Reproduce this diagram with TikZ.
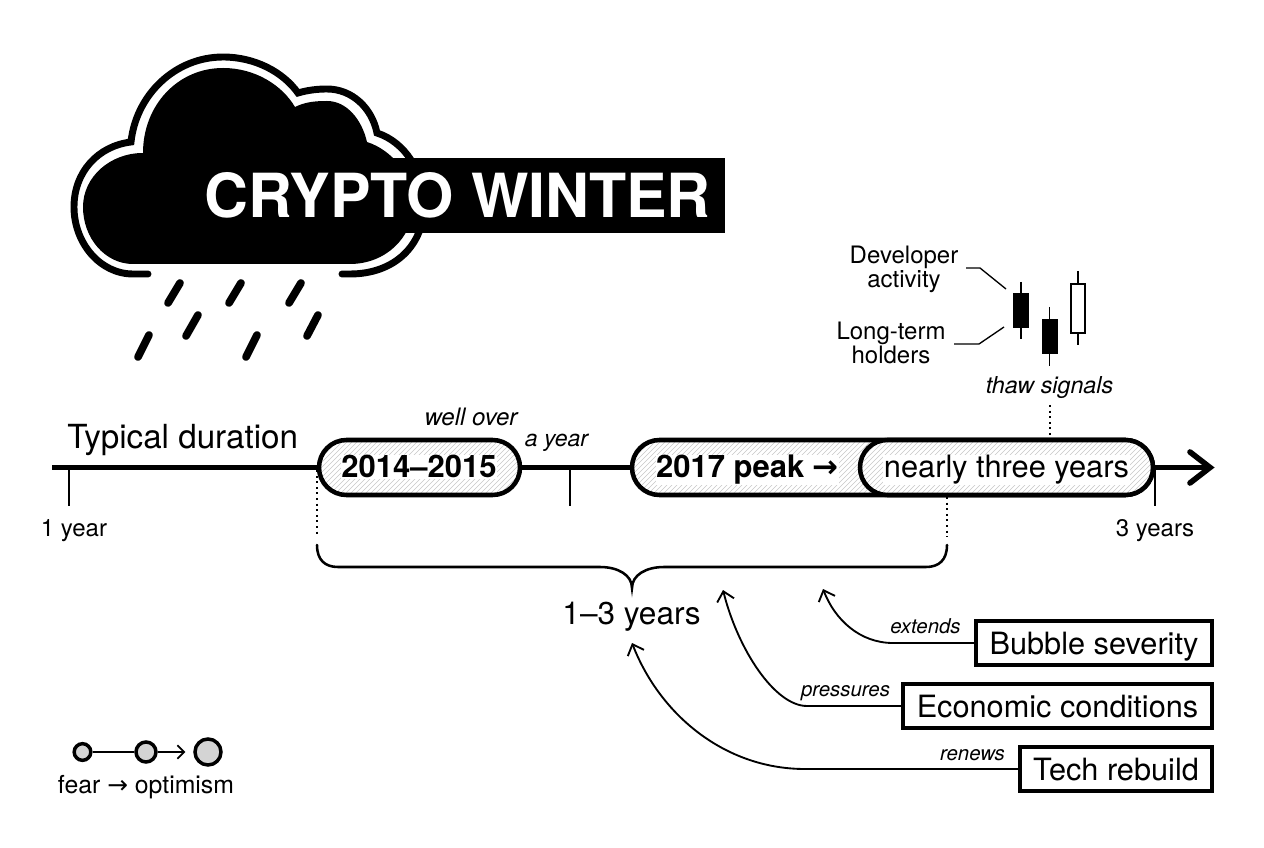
\documentclass[tikz,border=0pt]{standalone}
\usepackage{fontspec}
\setmainfont{TeX Gyre Heros}
\newfontfamily\arrowfont{DejaVu Sans}
\usetikzlibrary{arrows.meta,calc}
\definecolor{hatchgray}{gray}{0.78}
\newcommand{\pxf}[1]{\fontsize{\dimexpr#1pt*3/4\relax}{\dimexpr#1pt*25/32\relax}\selectfont}
\tikzset{
  x=0.75pt,y=-0.75pt,
  hatched/.style={path picture={
    \foreach \k in {-70,-65,...,600}{
      \draw[hatchgray,line width=0.45pt] ([xshift=\k*0.75pt]path picture bounding box.south west) -- ++(60,-60);
    }}},
  pill/.style={draw=black,line width=3.4pt,fill=white,hatched,rounded corners=20.6pt,minimum height=41.25pt,inner sep=0pt},
  pilltext/.style={fill=white,inner sep=0.4pt,anchor=base},
  bar/.style={line width=3.8pt,draw=black},
  tick/.style={line width=1.2pt,draw=black},
  dots/.style={line width=1.5pt,draw=black,dash pattern=on 1.5pt off 2.7pt},
  drop/.style={line width=5.8pt,line cap=round,draw=black},
  causebox/.style={draw=black,line width=2.9pt,fill=white,inner sep=0pt,minimum height=33.5pt},
  boxtext/.style={inner sep=0pt,anchor=base,font=\pxf{30.7}},
  cause/.style={line width=1.4pt,draw=black,-{Straight Barb[length=7pt,width=13pt,line width=1.4pt]}},
  verb/.style={font=\pxf{20.4}\itshape,inner sep=0pt,anchor=base},
  lab/.style={font=\pxf{24},inner sep=0pt,anchor=base},
  dot/.style={circle,draw=black,line width=2.6pt,fill=black!17,inner sep=0pt},
  wick/.style={line width=1.4pt,draw=black},
  leader/.style={line width=1pt,draw=black}
}
\begin{document}
\begin{tikzpicture}
\useasboundingbox (0,0) rectangle (1264,848);
\fill[white] (0,0) rectangle (1264,848);
% cloud
\fill[black] (133,264) .. controls (105,264) and (83,238) .. (83,207)
  .. controls (83,177) and (110,153) .. (143,153)
  .. controls (143,105) and (178,68) .. (223,68)
  .. controls (255,68) and (282,85) .. (295,107)
  .. controls (305,102) and (315,101) .. (327,101)
  .. controls (347,101) and (362,120) .. (367,142)
  .. controls (392,150) and (413,175) .. (413,205)
  .. controls (413,238) and (385,264) .. (350,264) -- cycle;
\draw[line width=5.2pt,line cap=round,line join=miter] (148,274) -- (133,274)
  .. controls (100,274) and (74,243) .. (74,207)
  .. controls (74,172) and (98,146) .. (131,142)
  .. controls (136,95) and (175,57) .. (223,57)
  .. controls (255,57) and (283,72) .. (298,93)
  .. controls (308,90) and (318,89) .. (327,89)
  .. controls (352,89) and (372,108) .. (377,133)
  .. controls (405,142) and (424,172) .. (424,205)
  .. controls (424,245) and (395,274) .. (350,274) -- (342,274);
\node[fill=black,minimum height=56.25pt,minimum width=393.75pt,inner sep=0pt,anchor=east] (title) at (725,195.5) {};
\node[text=white,font=\pxf{60.8}\bfseries,inner sep=0pt,anchor=base] (titletext) at (457.5,218) {CRYPTO WINTER};
% rain
\foreach \a/\b/\c/\d in {180/283/168/303,241/283/229/303,301/283/289/303,198/315/186/336,318/315/307/336,149/335/138/357,257/335/246/357}{
  \draw[drop] (\a,\b) -- (\c,\d);
}
% candles
\coordinate (c1t) at (1021,282); \coordinate (c1b) at (1021,339);
\coordinate (c2t) at (1049.5,307); \coordinate (c2b) at (1049.5,366);
\coordinate (c3t) at (1078,271); \coordinate (c3b) at (1078,345);
\draw[wick] (c1t) -- (c1b);
\draw[wick] (c2t) -- (c2b);
\draw[wick] (c3t) -- (c3b);
\node[fill=black,inner sep=0pt,minimum width=12pt,minimum height=26.25pt] (candleA) at (1021,310.5) {};
\node[fill=black,inner sep=0pt,minimum width=12pt,minimum height=26.25pt] (candleB) at (1049.5,336.5) {};
\node[draw=black,fill=white,line width=1.4pt,inner sep=0pt,minimum width=10.5pt,minimum height=36.5pt] (candleC) at (1078,308.5) {};
\node[lab] (dev) at (904,264) {Developer};
\node[lab] (dev2) at (904,288) {activity};
\node[lab] (ltk) at (891,339.5) {Long-term};
\node[lab] (ltk2) at (891,363.5) {holders};
\coordinate (devA) at (966,268); \coordinate (devB) at (1006,289);
\coordinate (ltkA) at (954,344); \coordinate (ltkB) at (1004,327);
\draw[leader] (devA) -- (980,268) -- (devB);
\draw[leader] (ltkA) -- (979,344) -- (ltkB);
\node[verb,font=\pxf{23.3}\itshape] (thaw) at (1049.5,394) {thaw signals};
% timeline
\coordinate (tlstart) at (52,467.5);
\coordinate (tltip) at (1210,467.5);
\draw[bar] (tlstart) -- (tltip);
\draw[bar,line width=4.2pt,line cap=round,line join=miter] (1190,452) -- (tltip) -- (1190,483);
\coordinate (t1a) at (69,467.5); \coordinate (t1b) at (69,506);
\coordinate (t2a) at (570,467.5); \coordinate (t2b) at (570,506);
\coordinate (t3a) at (1155,470); \coordinate (t3b) at (1155,506);
\draw[tick] (t1a) -- (t1b);
\draw[tick] (t2a) -- (t2b);
\draw[tick] (t3a) -- (t3b);
\coordinate (d1a) at (317,470); \coordinate (d1b) at (317,537);
\coordinate (d2a) at (947,497); \coordinate (d2b) at (947,537);
\coordinate (d3a) at (1049.5,405); \coordinate (d3b) at (1049.5,437);
\draw[dots] (d1a) -- (d1b);
\draw[dots] (d2a) -- (d2b);
\draw[dots] (d3a) -- (d3b);
\node[pill,minimum width=150.75pt] (p1) at (419.5,467.5) {};
\node[pill,minimum width=390.75pt] (p2) at (892.5,467.5) {};
\node[pill,minimum width=219.75pt] (p3) at (1006.5,467.5) {};
\node[pilltext,font=\pxf{31}\bfseries] (p1text) at (419,478) {2014--2015};
\node[pilltext,font=\pxf{31}\bfseries] (p2text) at (747.5,478) {2017 peak {\arrowfont →}};
\node[pilltext,font=\pxf{30.8}] (p3text) at (1006.5,478) {nearly three years};
\node[inner sep=0pt,anchor=base west,font=\pxf{33.2}] (typ) at (67,449) {Typical duration};
\node[lab] (y1) at (74,536) {1 year};
\node[lab] (y3) at (1155,536) {3 years};
\node[verb,font=\pxf{24}\itshape] (wo) at (471,426) {well over};
\node[verb,font=\pxf{23}\itshape] (ay) at (556.5,446) {a year};
% brace
\draw[line width=1.9pt,line cap=round] (317,545) .. controls (317,560) and (325,567) .. (338,567) -- (600,567)
  .. controls (618,567) and (632,575) .. (632,588) .. controls (632,575) and (646,567) .. (664,567)
  -- (926,567) .. controls (939,567) and (947,560) .. (947,545);
\node[inner sep=0pt,anchor=base,font=\pxf{31.6}] (range) at (631.5,624.5) {1--3 years};
% causes
\node[causebox,minimum width=177pt] (bub) at (1094,643) {};
\node[causebox,minimum width=231.75pt] (eco) at (1057.5,706) {};
\node[causebox,minimum width=144pt] (tech) at (1116,769) {};
\node[boxtext] (bubt) at (1094,654) {Bubble severity};
\node[boxtext] (ecot) at (1057.5,717) {Economic conditions};
\node[boxtext] (techt) at (1116,780) {Tech rebuild};
\coordinate (tipA) at (823,589);
\coordinate (tipB) at (723,590);
\coordinate (tipC) at (632,643);
\draw[cause] (bub.west) -- (893,643) .. controls (860,643) and (835,620) .. (tipA);
\draw[cause] (eco.west) -- (807,706) .. controls (775,706) and (738,650) .. (tipB);
\draw[cause] (tech.west) -- (805,769) .. controls (725,769) and (660,715) .. (tipC);
\node[verb] (ex) at (925.5,633) {extends};
\node[verb] (pr) at (845.5,696.5) {pressures};
\node[verb] (re) at (972.5,760) {renews};
% legend
\node[dot,minimum size=12.5pt] (l1) at (82.5,752) {};
\node[dot,minimum size=15pt] (l2) at (146,752) {};
\node[dot,minimum size=19.5pt] (l3) at (208,752) {};
\draw[line width=1.3pt] (l1) -- (l2);
\draw[line width=1.3pt,-{Straight Barb[length=5pt,width=10pt,line width=1.3pt]}] (l2) -- ([xshift=-6pt]l3.west);
\node[lab,font=\pxf{24.8}] (leg) at (146,793.5) {fear {\arrowfont →} optimism};
\end{tikzpicture}
\end{document}
